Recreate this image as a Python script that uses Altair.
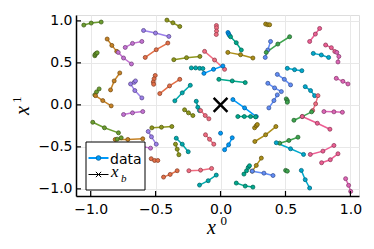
import altair as alt
import pandas as pd

palette = {
    "blue1": "#009AFA", "orangered": "#E36F47", "green": "#3EA44E", "purple": "#C371D2",
    "gold": "#AC8E18", "teal": "#00AAAE", "pink": "#ED5E93", "orange": "#C68225",
    "tealgreen": "#00A98D", "olive": "#8E971D", "cyan": "#00A9CD", "lpurple": "#9B7FE9",
    "blue2": "#618DF6", "pinkred": "#F16C81", "olivegreen": "#6B9D2F", "magenta": "#DD64B5",
}

seg_x = [
    [-1.053, -0.996, -0.919], [-0.968, -0.966, -0.958, -0.950], [-0.873, -0.837, -0.799],
    [-0.788, -0.747, -0.686], [-0.734, -0.678, -0.606], [-0.593, -0.501, -0.398],
    [-0.580, -0.495, -0.406], [-0.413, -0.367, -0.314], [-0.360, -0.262, -0.159],
    [-0.503, -0.512, -0.518, -0.515], [-0.468, -0.393, -0.314], [-0.352, -0.295, -0.233],
    [-0.847, -0.819, -0.776], [-0.968, -0.955, -0.935], [-0.963, -0.907, -0.842],
    [-0.606, -0.660, -0.693, -0.665, -0.655], [-0.032, -0.031, -0.031, -0.033],
    [0.347, 0.364, 0.378], [0.057, 0.062, 0.068], [0.077, 0.121, 0.160],
    [0.056, 0.154, 0.249], [0.385, 0.364, 0.344], [0.352, 0.441, 0.532],
    [0.686, 0.730, 0.763], [0.809, 0.853, 0.880], [0.895, 0.911, 0.904],
    [0.714, 0.776, 0.832], [-0.123, -0.046, 0.031], [-0.128, -0.054, 0.018],
    [-0.225, -0.192, -0.161, -0.136], [-0.013, 0.090, 0.190], [0.437, 0.491, 0.539],
    [0.364, 0.416, 0.468], [0.514, 0.570, 0.626], [0.891, 0.942, 0.981],
    [0.652, 0.693, 0.724], [0.750, 0.732, 0.709], [0.701, 0.629, 0.565],
    [0.629, 0.745, 0.842], [0.796, 0.873, 0.938], [0.506, 0.514, 0.514],
    [0.372, 0.411, 0.437], [0.095, 0.185, 0.275], [0.133, 0.183, 0.231, 0.270],
    [-0.277, -0.247, -0.213], [-0.187, -0.175, -0.162], [-0.154, -0.118, -0.090],
    [-0.747, -0.678, -0.599], [-0.984, -0.894, -0.786], [-0.529, -0.455, -0.375],
    [-0.811, -0.714, -0.599], [-0.796, -0.765], [-0.557, -0.532, -0.495],
    [-0.640, -0.539], [-0.534, -0.508, -0.483], [-0.439, -0.388, -0.334],
    [-0.347, -0.334, -0.321], [-0.341, -0.295, -0.249], [-0.116, -0.085, -0.052],
    [-0.244, -0.154, -0.069], [-0.162, -0.095, -0.033], [0.0],
    [0.031, 0.062, 0.090], [0.262, 0.275, 0.283], [0.264, 0.347, 0.426],
    [0.455, 0.526, 0.596], [0.429, 0.539, 0.639], [0.691, 0.788, 0.873],
    [0.778, 0.845, 0.904], [0.244, 0.275, 0.314], [0.180, 0.200, 0.213, 0.223],
    [0.244, 0.334, 0.404], [0.121, 0.190, 0.249], [0.501, 0.514],
    [0.622, 0.652, 0.686], [0.963, 0.986, 1.002],
]
seg_y = [
    [0.950, 0.974, 0.986], [0.585, 0.600, 0.612, 0.620], [0.784, 0.708, 0.637],
    [0.625, 0.558, 0.487], [0.684, 0.732, 0.755], [0.886, 0.855, 0.815],
    [0.565, 0.657, 0.736], [1.009, 0.977, 0.933], [0.538, 0.562, 0.577],
    [0.350, 0.310, 0.272, 0.245], [0.134, 0.226, 0.304], [0.048, 0.143, 0.233],
    [0.178, 0.285, 0.380], [0.119, 0.154, 0.190], [0.110, 0.051, -0.012],
    [0.083, 0.170, 0.249, 0.268, 0.285], [0.945, 0.918, 0.879, 0.838],
    [0.962, 0.954, 0.954], [0.862, 0.845, 0.828], [0.811, 0.740, 0.653],
    [0.625, 0.597, 0.558], [0.755, 0.653, 0.565], [0.625, 0.724, 0.811],
    [0.755, 0.843, 0.910], [0.713, 0.681, 0.635], [0.625, 0.577, 0.511],
    [0.613, 0.594, 0.565], [0.637, 0.534, 0.423], [0.375, 0.423, 0.463],
    [0.440, 0.440, 0.435, 0.432], [0.304, 0.285, 0.265], [0.363, 0.304, 0.238],
    [0.257, 0.202, 0.158], [0.435, 0.419, 0.407], [0.316, 0.280, 0.249],
    [0.217, 0.170, 0.110], [0.110, 0.012, -0.068], [-0.083, -0.139, -0.183],
    [-0.139, -0.219, -0.290], [-0.080, -0.083, -0.088], [0.071, 0.051, 0.031],
    [-0.036, 0.051, 0.119], [0.063, -0.036, -0.139], [-0.139, -0.139, -0.139, -0.143],
    [-0.059, -0.095, -0.127], [0.043, -0.028, -0.068], [-0.068, -0.127, -0.166],
    [-0.115, -0.095, -0.080], [-0.207, -0.273, -0.333], [-0.273, -0.266, -0.258],
    [-0.412, -0.412, -0.404], [-0.408, -0.392], [-0.317, -0.380, -0.468],
    [-0.485, -0.515], [-0.641, -0.662, -0.662], [-0.860, -0.828, -0.784],
    [-0.468, -0.527, -0.594], [-0.397, -0.468, -0.558], [-0.356, -0.409, -0.468],
    [-0.784, -0.777, -0.757], [-0.955, -0.903, -0.836], [-0.337],
    [-0.534, -0.475, -0.392], [-0.273, -0.249, -0.234], [-0.436, -0.356, -0.258],
    [-0.456, -0.424, -0.385], [-0.451, -0.523, -0.590], [-0.590, -0.551, -0.483],
    [-0.689, -0.653, -0.582], [-0.789, -0.721, -0.634], [-0.824, -0.784, -0.745, -0.725],
    [-0.789, -0.813, -0.841], [-0.931, -0.967, -0.979], [-0.780, -0.789],
    [-0.780, -0.891, -0.990], [-0.879, -0.958, -1.030],
]
seg_c = [
    "olivegreen", "olivegreen", "orange", "purple", "purple", "lpurple",
    "orangered", "olive", "olive", "orangered", "orangered", "teal",
    "orange", "olivegreen", "orange", "lpurple", "pinkred",
    "gold", "blue1", "tealgreen", "gold", "blue2", "green",
    "pink", "pink", "magenta", "cyan", "pinkred", "blue1",
    "teal", "tealgreen", "blue2", "blue2", "cyan", "magenta",
    "cyan", "pinkred", "green", "pink", "magenta", "green",
    "blue2", "blue1", "tealgreen", "olive", "teal", "pinkred",
    "purple", "olivegreen", "olive", "orange", "olivegreen", "lpurple",
    "purple", "orangered", "orangered", "olive", "teal", "pinkred",
    "pinkred", "teal", "blue1", "blue1", "gold", "gold",
    "green", "cyan", "pink", "pink", "gold", "tealgreen",
    "blue2", "tealgreen", "green", "cyan", "magenta",
]

tick_vals = [-1.0, -0.5, 0.0, 0.5, 1.0]
xb_x = [0.0]
xb_y = [0.0]


def darker(h, f=0.62):
    h = h.lstrip("#")
    r, g, b = (int(h[i:i + 2], 16) for i in (0, 2, 4))
    return "#%02x%02x%02x" % (int(r * f), int(g * f), int(b * f))


rows = []
for i, (xs_, ys_, c) in enumerate(zip(seg_x, seg_y, seg_c)):
    for j, (x, y) in enumerate(zip(xs_, ys_)):
        rows.append(dict(s=i, o=j, x=x, y=y, c=palette[c], k=darker(palette[c])))
df = pd.DataFrame(rows)

W, H = 283, 181
xscale = alt.Scale(domain=[-1.113, 1.066], nice=False, zero=False)
yscale = alt.Scale(domain=[-1.085, 1.07], nice=False, zero=False)
common = dict(grid=True, ticks=False, tickSize=0, title=None, format=".1f",
              values=tick_vals, domainColor="black", domainWidth=1.5,
              labelFont="DejaVu Sans", labelFontSize=14, labelColor="black",
              gridColor="#e8e8e8", gridWidth=1)
xaxis = alt.Axis(labelPadding=6, **common)
yaxis = alt.Axis(labelPadding=4, **common)
X = alt.X("x:Q", scale=xscale, axis=xaxis)
Y = alt.Y("y:Q", scale=yscale, axis=yaxis)

lines = alt.Chart(df).mark_line(strokeWidth=1.5).encode(
    x=X, y=Y, color=alt.Color("c:N", scale=None), detail="s:N", order="o:O")
points = alt.Chart(df).mark_point(filled=True, size=16, strokeWidth=0.8, opacity=1).encode(
    x=X, y=Y, fill=alt.Fill("c:N", scale=None), stroke=alt.Stroke("k:N", scale=None))
xb = alt.Chart(pd.DataFrame({"x": xb_x, "y": xb_y})).mark_point(
    shape="M-1,-1L1,1M-1,1L1,-1", size=190, strokeWidth=2.5, color="black",
    filled=False, opacity=1).encode(x=X, y=Y)

tdf = pd.DataFrame({"x": tick_vals, "y": tick_vals})
xticks = alt.Chart(tdf).mark_rule(color="black", strokeWidth=1.2).encode(
    x=X, y=alt.value(H), y2=alt.value(H - 5))
yticks = alt.Chart(tdf).mark_rule(color="black", strokeWidth=1.2).encode(
    y=Y, x=alt.value(0), x2=alt.value(5))

one = pd.DataFrame({"a": [0]})
box = alt.Chart(one).mark_rect(fill="white", stroke="black", strokeWidth=1).encode(
    x=alt.value(10), x2=alt.value(69), y=alt.value(127), y2=alt.value(175))
leg_l1 = alt.Chart(one).mark_rule(color=palette["blue1"], strokeWidth=2).encode(
    x=alt.value(12.5), x2=alt.value(32.5), y=alt.value(143))
leg_p1 = alt.Chart(one).mark_point(filled=True, size=22, strokeWidth=0.8, opacity=1,
                                   fill=palette["blue1"], stroke=darker(palette["blue1"])).encode(
    x=alt.value(22.5), y=alt.value(143))
leg_l2 = alt.Chart(one).mark_rule(color="black", strokeWidth=1).encode(
    x=alt.value(12.5), x2=alt.value(32.5), y=alt.value(159.5))
leg_p2 = alt.Chart(one).mark_point(shape="M-1,-1L1,1M-1,1L1,-1", size=28, strokeWidth=1,
                                   color="black", filled=False, opacity=1).encode(
    x=alt.value(22.5), y=alt.value(159.5))


def txt(s, x, y, size, font="DejaVu Sans", style="normal", angle=0):
    return alt.Chart(pd.DataFrame({"t": [s]})).mark_text(
        align="left", baseline="alphabetic", font=font, fontSize=size,
        fontStyle=style, angle=angle, color="black").encode(
        x=alt.value(x), y=alt.value(y), text="t:N")


t_data = txt("data", 34, 149, 14)
t_xb = txt("x", 35, 161.5, 17, "Liberation Serif", "italic")
t_b = txt("b", 45, 167, 11, "Liberation Serif", "italic")
t_x0 = txt("x", 131, 218.5, 20, "Liberation Serif", "italic")
t_0 = txt("0", 144.5, 210, 13, "Liberation Serif")
t_x1 = txt("x", -47, 100, 20, "Liberation Serif", "italic", angle=270)
t_1 = txt("1", -55.5, 88, 13, "Liberation Serif", angle=270)

chart = alt.layer(
    lines, points, xb, xticks, yticks, box, leg_l1, leg_p1, leg_l2, leg_p2,
    t_data, t_xb, t_b, t_x0, t_0, t_x1, t_1,
).properties(
    width=W, height=H,
    autosize=alt.AutoSizeParams(type="none"),
    padding={"left": 68, "top": 7, "right": 7, "bottom": 45},
).configure_view(stroke=None).configure(background="white")

chart.save("out.html", embed_options={"renderer": "svg", "actions": False})
